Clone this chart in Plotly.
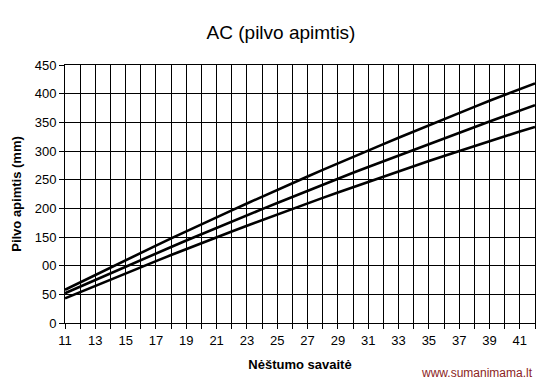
import plotly.graph_objects as go

weeks = list(range(11, 43))
upper = [58, 71, 84, 97, 110, 122.5, 135, 147.5, 160, 172, 184.5, 196.5, 208.5, 220.5, 232, 244,
         255.5, 267, 278.5, 290, 301, 312, 323, 334, 345, 356, 366, 377, 387.5, 398, 408, 418]
middle = [52, 63.7, 75.4, 87, 98.5, 110, 121.3, 132.6, 143.8, 155, 166, 177, 188, 198.6, 209.3, 220,
          230.6, 241, 251.5, 262, 272, 282, 292.4, 302.5, 312.4, 322.3, 332, 341.8, 351.4, 361, 370.5, 380]
lower = [43, 54, 65, 76, 86.7, 97.4, 108, 118.5, 129, 139.2, 149.4, 159.5, 169.5, 179.5, 189.3, 199,
         208.7, 218.2, 227.7, 237, 246.3, 255.5, 264.6, 273.6, 282.5, 291.3, 300, 308.6, 317, 325.6, 334, 342]

x_ticktext = [str(w) if w % 2 == 1 else "" for w in weeks]
y_tickvals = list(range(0, 451, 50))
y_ticktext = ["0", "50", "00", "150", "200", "250", "300", "350", "400", "450"]

fig = go.Figure()
for s in (upper, middle, lower):
    fig.add_trace(go.Scatter(x=weeks, y=s, mode="lines",
                             line=dict(color="black", width=2.6),
                             showlegend=False, hoverinfo="skip"))

fig.update_layout(
    width=549, height=387,
    margin=dict(l=65, r=14, t=65, b=64),
    paper_bgcolor="white", plot_bgcolor="white",
    font=dict(family="Liberation Sans, Arial, sans-serif", size=12, color="black"),
    title=dict(text="AC (pilvo apimtis)", x=281/549, xanchor="center",
               y=1 - 32/387, yanchor="middle",
               font=dict(size=19, color="black")),
    xaxis=dict(range=[11, 42], tickvals=weeks, ticktext=x_ticktext,
               showgrid=True, gridcolor="black", gridwidth=1,
               showline=True, linecolor="black", linewidth=1, mirror=True,
               ticks="outside", ticklen=5, tickcolor="black",
               zeroline=False, tickfont=dict(size=13),
               title=dict(text="<b>Nėštumo savaitė</b>", font=dict(size=13), standoff=13)),
    yaxis=dict(range=[0, 450], tickvals=y_tickvals, ticktext=y_ticktext,
               showgrid=True, gridcolor="black", gridwidth=1,
               showline=True, linecolor="black", linewidth=1, mirror=True,
               ticks="outside", ticklen=5, tickcolor="black",
               zeroline=False, tickfont=dict(size=13),
               title=dict(text="<b>Pilvo apimtis (mm)</b>", font=dict(size=13), standoff=10)),
    annotations=[dict(text="www.sumanimama.lt", xref="paper", yref="paper",
                      x=(535 - 65) / 470, y=-(373 - 323) / 258, xanchor="right",
                      yanchor="middle", showarrow=False,
                      font=dict(size=12, color="#8B2323"))],
)

fig.write_html("out.html")
